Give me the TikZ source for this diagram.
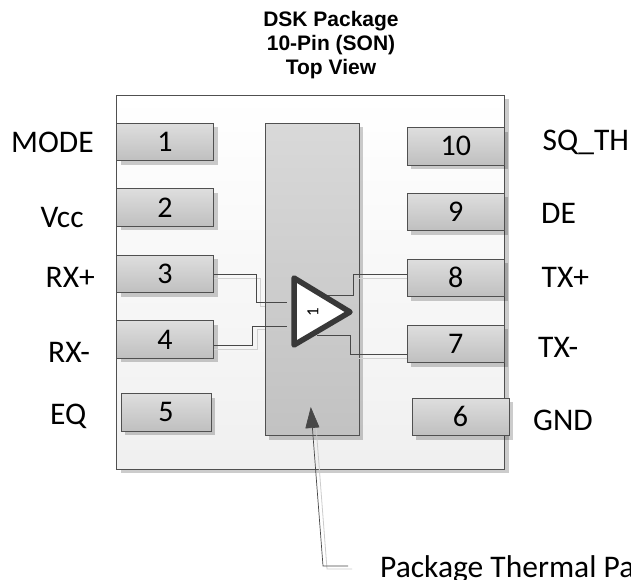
\documentclass[tikz,border=0pt]{standalone}
\usepackage{fontspec}
\setmainfont{Carlito}
\newfontfamily\titlefont{Liberation Sans}
\usetikzlibrary{shadows,arrows.meta}
\definecolor{edge}{HTML}{505050}
\definecolor{wirec}{HTML}{484848}
\tikzset{
  x=1pt,y=-1pt,
  softshadow/.style={drop shadow={shadow xshift=4pt,shadow yshift=-4pt,fill=black,opacity=0.2}},
  pkgbox/.style={draw=edge,line width=0.9pt,top color=white,bottom color=black!6,rectangle,inner sep=0pt,softshadow},
  padbox/.style={draw=edge,line width=0.9pt,top color=black!15,bottom color=black!24,rectangle,inner sep=0pt,softshadow},
  pinbox/.style={draw=edge,line width=0.9pt,top color=black!13,bottom color=black!25,rectangle,inner sep=0pt,minimum width=97pt,minimum height=37.5pt,text height=19pt,text depth=0pt,font=\fontsize{30}{30}\selectfont,softshadow},
  lab/.style={font=\fontsize{31.5}{32}\selectfont,inner sep=0pt,text=black,anchor=base west},
  wire/.style={draw=wirec,line width=0.9pt},
  wireshadow/.style={draw=black!18,line width=0.9pt},
}
\begin{document}
\begin{tikzpicture}
\useasboundingbox (0,0) rectangle (631,580);
\fill[white] (0,0) rectangle (631,580);
\node[font=\titlefont\bfseries\fontsize{21}{24}\selectfont,align=center,inner sep=0pt] (title) at (331,45) {DSK Package\\10-Pin (SON)\\Top View};
\node[pkgbox,minimum width=388pt,minimum height=374pt] (pkg) at (310.5,282) {};
\node[padbox,minimum width=94pt,minimum height=312pt] (pad) at (312,279.5) {};
% pins
\node[pinbox] (p1) at (165,142) {1};
\node[pinbox] (p2) at (165,207.5) {2};
\node[pinbox] (p3) at (165,274) {3};
\node[pinbox] (p4) at (165,339.5) {4};
\node[pinbox,minimum width=90pt] (p5) at (166,412.3) {5};
\node[pinbox] (p10) at (455.8,146.5) {10};
\node[pinbox] (p9) at (455.8,212) {9};
\node[pinbox] (p8) at (455.8,278) {8};
\node[pinbox] (p7) at (455.8,344) {7};
\node[pinbox] (p6) at (460.5,416.8) {6};
% labels
\node[lab] (lmode) at (11,153) {MODE};
\node[lab] (lvcc) at (40.5,227) {Vcc};
\node[lab] (lrxp) at (45.5,287) {RX+};
\node[lab] (lrxn) at (48,362) {RX-};
\node[lab] (leq) at (50,424) {EQ};
\node[lab] (lsq) at (542.5,151) {SQ\_TH};
\node[lab] (lde) at (541,223) {DE};
\node[lab] (ltxp) at (541.5,287) {TX+};
\node[lab] (ltxn) at (538,357) {TX-};
\node[lab] (lgnd) at (533,430) {GND};
% amplifier
\coordinate (ia) at (287,302.3);
\coordinate (ib) at (287,326);
\coordinate (oa) at (327,295.3);
\coordinate (ob) at (317,335.7);
\draw[wireshadow] (p3.east|-0,278) -| (260,306) -- (265,306);
\draw[wireshadow] (p4.east|-0,349) -| (257,329.5) -- (265,329.5);
\draw[wireshadow] (359,278) -- (p8.west|-0,278);
\draw[wireshadow] (359,358) -- (p7.west|-0,358);
\draw[wire] (p3.east|-0,274.3) -| (256,302.3) -- (ia);
\draw[wire] (p4.east|-0,345) -| (252.7,326) -- (ib);
\draw[wire] (oa) -| (353,274.3) -- (p8.west|-0,274.3);
\draw[wire] (ob) -| (350,354.5) -- (p7.west|-0,354.5);
\draw[draw=black!78,fill=white,line width=5.5pt,line join=round] (294,278) -- (350,312) -- (294,345) -- cycle;
\node[rotate=90,inner sep=0pt,font=\fontsize{17}{17}\selectfont] (gain) at (313,312) {1};
% thermal pad callout
\node[lab] (lpad) at (380,577) {Package Thermal Pad};
\coordinate (tail) at (348,566);
\coordinate (elbow) at (323,566);
\coordinate (tip) at (310.8,407);
\draw[black!20,line width=0.8pt] ([shift={(4,3)}]tail) -- ([shift={(4,3)}]elbow) -- ([shift={(4,3)}]tip);
\draw[draw=wirec,line width=0.7pt,-{Triangle[length=21pt,width=14pt,fill=black!72]}] (tail) -- (elbow) -- (tip);
\end{tikzpicture}
\end{document}
